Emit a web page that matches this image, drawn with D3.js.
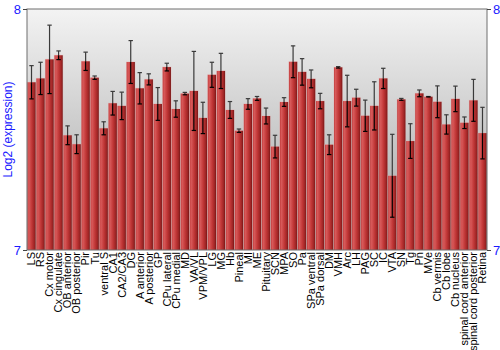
<!DOCTYPE html>
<html>
<head>
<meta charset="utf-8">
<script src="https://cdn.jsdelivr.net/npm/d3@7"></script>
<style>
  body { margin: 0; background: #fff; }
  svg { display: block; font-family: "Liberation Sans", Arial, sans-serif; }
</style>
</head>
<body>
<svg id="chart"></svg>
<script>
// tissues, in plot order
const regions = ['LS', 'RS', 'Cx motor', 'Cx cingulate', 'OB anterior', 'OB posterior', 'Pir', 'Tu',
  'ventral S', 'CA1', 'CA2/CA3', 'DG', 'A anterior', 'A posterior', 'GP', 'CPu lateral', 'CPu medial',
  'MD', 'VA/VL', 'VPM/VPL', 'LG', 'MG', 'Hb', 'Pineal', 'MI', 'ME', 'Pituitary', 'SCN', 'MPA', 'SO',
  'Pa', 'SPa ventral', 'SPa dorsal', 'DM', 'VMH', 'Arc', 'LH', 'PAG', 'SC', 'IC', 'VTA', 'SN', 'Tg',
  'Pn', 'MVe', 'Cb vermis', 'Cb lobe', 'Cb nucleus', 'spinal cord anterior', 'spinal cord posterior', 'Retina']

// mean log2 expression
const means = [7.696, 7.712, 7.791, 7.808, 7.476, 7.439, 7.783, 7.715,
  7.505, 7.609, 7.598, 7.780, 7.671, 7.708, 7.606, 7.759, 7.585,
  7.649, 7.660, 7.548, 7.727, 7.743, 7.581, 7.495, 7.606, 7.629, 7.556, 7.429, 7.614, 7.781,
  7.739, 7.710, 7.618, 7.437, 7.758, 7.618, 7.632, 7.557, 7.598, 7.712, 7.308, 7.625, 7.452,
  7.650, 7.636, 7.615, 7.521, 7.627, 7.528, 7.621, 7.485]

// half length of the error bars
const errs = [0.069, 0.067, 0.142, 0.018, 0.039, 0.039, 0.038, 0.007,
  0.027, 0.049, 0.057, 0.089, 0.065, 0.023, 0.068, 0.016, 0.034,
  0.005, 0.164, 0.065, 0.052, 0.073, 0.035, 0.007, 0.022, 0.008, 0.033, 0.047, 0.018, 0.066,
  0.055, 0.037, 0.032, 0.041, 0.003, 0.107, 0.035, 0.065, 0.100, 0.042, 0.172, 0.004, 0.072,
  0.014, 0.001, 0.066, 0.040, 0.053, 0.024, 0.087, 0.107]

const yTicks = [7, 8]

const width = 500, height = 350
const margin = { top: 9, right: 13, bottom: 100, left: 27 }
const innerW = width - margin.left - margin.right
const innerH = height - margin.top - margin.bottom

const svg = d3.select('#chart').attr('width', width).attr('height', height)

const defs = svg.append('defs')

// grey background fading down
const bgGrad = defs.append('linearGradient').attr('id', 'bg').attr('x1', 0).attr('y1', 0).attr('x2', 0).attr('y2', 1)
bgGrad.append('stop').attr('offset', '0%').attr('stop-color', '#f3f3f3')
bgGrad.append('stop').attr('offset', '100%').attr('stop-color', '#a2a2a2')

// bar shading, light left edge to dark right edge
const barGrad = defs.append('linearGradient').attr('id', 'bar').attr('x1', 0).attr('y1', 0).attr('x2', 1).attr('y2', 0)
barGrad.append('stop').attr('offset', '0%').attr('stop-color', '#c23c3c')
barGrad.append('stop').attr('offset', '18%').attr('stop-color', '#d85a5a')
barGrad.append('stop').attr('offset', '55%').attr('stop-color', '#c03636')
barGrad.append('stop').attr('offset', '85%').attr('stop-color', '#9c2424')
barGrad.append('stop').attr('offset', '100%').attr('stop-color', '#741414')

const g = svg.append('g').attr('transform', `translate(${margin.left},${margin.top})`)

const x = d3.scaleBand().domain(regions).range([0, innerW]).paddingInner(0.08).paddingOuter(0.04)
const y = d3.scaleLinear().domain([7, 8]).range([innerH, 0])

g.append('rect').attr('width', innerW).attr('height', innerH).attr('fill', 'url(#bg)')

// bars
const bars = g.append('g').selectAll('g').data(regions).join('g')

bars.append('rect')
  .attr('x', (d) => x(d) - 0.5)
  .attr('y', (d, i) => y(means[i]) - 0.5)
  .attr('width', x.bandwidth() + 1)
  .attr('height', (d, i) => innerH - y(means[i]) + 0.5)
  .attr('fill', '#e8b0b0')
  .attr('opacity', 0.5)

bars.append('rect')
  .attr('x', (d) => x(d))
  .attr('y', (d, i) => y(means[i]))
  .attr('width', x.bandwidth())
  .attr('height', (d, i) => innerH - y(means[i]))
  .attr('fill', 'url(#bar)')

// error bars: grey above the bar, black inside it
const cx = (d) => x(d) + x.bandwidth() / 2
const capW = 2.2

bars.append('line')
  .attr('x1', cx).attr('x2', cx)
  .attr('y1', (d, i) => y(means[i] + errs[i]))
  .attr('y2', (d, i) => y(means[i]))
  .attr('stroke', '#3a3a3a').attr('stroke-width', 1.2)
bars.append('line')
  .attr('x1', (d) => cx(d) - capW).attr('x2', (d) => cx(d) + capW)
  .attr('y1', (d, i) => y(means[i] + errs[i]))
  .attr('y2', (d, i) => y(means[i] + errs[i]))
  .attr('stroke', '#3a3a3a').attr('stroke-width', 1.2)
bars.append('line')
  .attr('x1', cx).attr('x2', cx)
  .attr('y1', (d, i) => y(means[i]))
  .attr('y2', (d, i) => y(means[i] - errs[i]))
  .attr('stroke', '#000').attr('stroke-width', 1.2)
bars.append('line')
  .attr('x1', (d) => cx(d) - capW).attr('x2', (d) => cx(d) + capW)
  .attr('y1', (d, i) => y(means[i] - errs[i]))
  .attr('y2', (d, i) => y(means[i] - errs[i]))
  .attr('stroke', '#000').attr('stroke-width', 1.2)

// frame
g.append('rect').attr('width', innerW).attr('height', innerH)
  .attr('fill', 'none').attr('stroke', '#6e6e6e').attr('stroke-width', 1)

// y axes on both sides
const leftAxis = d3.axisLeft(y).tickValues(yTicks).tickSize(4).tickPadding(2).tickFormat(d3.format('d'))
const rightAxis = d3.axisRight(y).tickValues(yTicks).tickSize(4).tickPadding(2).tickFormat(d3.format('d'))

const la = g.append('g').call(leftAxis)
const ra = g.append('g').attr('transform', `translate(${innerW},0)`).call(rightAxis)
for (const ax of [la, ra]) {
  ax.select('.domain').remove()
  ax.selectAll('line').attr('stroke', '#444')
  ax.selectAll('text').attr('fill', '#1a1aff').style('font-size', '13px')
}

// x labels
const xAxis = d3.axisBottom(x).tickSize(0).tickPadding(0)
const xa = g.append('g').attr('transform', `translate(0,${innerH})`).call(xAxis)
xa.select('.domain').remove()
xa.selectAll('text')
  .attr('transform', 'rotate(-90)')
  .attr('x', -2).attr('y', 0).attr('dy', '0.35em')
  .style('text-anchor', 'end')
  .style('font-size', '11px')
  .attr('fill', '#000')

svg.append('text')
  .attr('transform', `translate(12,${margin.top + innerH / 2}) rotate(-90)`)
  .attr('text-anchor', 'middle')
  .attr('fill', '#1a1aff')
  .style('font-size', '12px')
  .text('Log2 (expression)')
</script>
</body>
</html>
